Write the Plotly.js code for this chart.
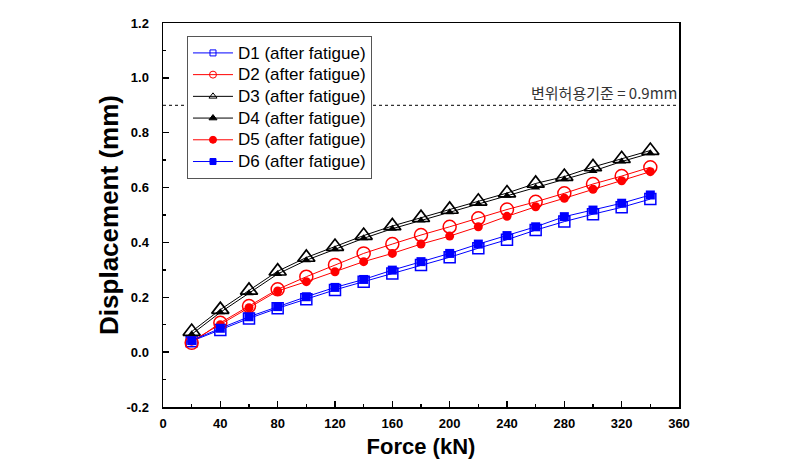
<!DOCTYPE html>
<html>
<head>
<meta charset="utf-8">
<script src="https://cdn.plot.ly/plotly-3.0.1.min.js"></script>
<style>html,body{margin:0;padding:0;background:#fff;}#chart{width:793px;height:465px;}</style>
</head>
<body>
<div id="chart"></div>
<script>
const force = [20,40,60,80,100,120,140,160,180,200,220,240,260,280,300,320,340];
const D1 = [0.040,0.081,0.123,0.160,0.193,0.227,0.257,0.287,0.318,0.346,0.379,0.410,0.445,0.476,0.503,0.528,0.558];
const D2 = [0.034,0.107,0.168,0.229,0.275,0.318,0.360,0.394,0.427,0.457,0.488,0.520,0.548,0.579,0.613,0.642,0.674];
const D3 = [0.075,0.155,0.225,0.295,0.345,0.385,0.425,0.460,0.490,0.520,0.550,0.580,0.615,0.640,0.675,0.705,0.735];
const D4 = [0.065,0.145,0.215,0.285,0.335,0.375,0.415,0.450,0.480,0.510,0.540,0.570,0.600,0.630,0.660,0.695,0.725];
const D5 = [0.040,0.100,0.162,0.223,0.257,0.293,0.330,0.360,0.394,0.423,0.457,0.495,0.530,0.561,0.594,0.625,0.658];
const D6 = [0.042,0.087,0.129,0.166,0.202,0.236,0.265,0.299,0.330,0.360,0.394,0.425,0.457,0.494,0.518,0.543,0.573];
const names = ["D1 (after fatigue)","D2 (after fatigue)","D3 (after fatigue)","D4 (after fatigue)","D5 (after fatigue)","D6 (after fatigue)"];
const yTickVals = [-0.2,0,0.2,0.4,0.6,0.8,1.0,1.2];
const yTickText = ["-0.2","0.0","0.2","0.4","0.6","0.8","1.0","1.2"];
const limitValue = 0.9;
const limitLabel = "변위허용기준 = 0.9mm";

const series = [
  {y:D1, color:'#0000ff', symbol:'square-open', size:11, lw:1.5, lsize:6},
  {y:D2, color:'#ff0000', symbol:'circle-open', size:13, lw:1.5, lsize:7},
  {y:D3, color:'#000000', symbol:'triangle-up-open', size:15, lw:1.7, lsize:7},
  {y:D4, color:'#000000', symbol:'triangle-up', size:8, lw:0, lsize:7},
  {y:D5, color:'#ff0000', symbol:'circle', size:9, lw:0, lsize:7},
  {y:D6, color:'#0000ff', symbol:'square', size:9, lw:0, lsize:6}
];

const traces = [];
series.forEach((s,i)=>{
  traces.push({
    x: force, y: s.y, type:'scatter', mode:'lines+markers', showlegend:false,
    line:{color:s.color, width:1},
    marker:{symbol:s.symbol, size:s.size, color:s.color, line:{color:s.color, width:s.lw}}
  });
});
series.forEach((s,i)=>{
  traces.push({
    x:[null], y:[null], type:'scatter', mode:'lines+markers',
    name:'<span style="font-size:17px">'+names[i]+'</span>', showlegend:true,
    line:{color:s.color, width:1},
    marker:{symbol:s.symbol, size:s.lsize, color:s.color, line:{color:s.color, width:1}}
  });
});

const axisFont = {family:'Liberation Sans, Arial, sans-serif', size:13, color:'#000', weight:'bold'};
const layout = {
  width:793, height:465,
  margin:{l:163, r:114, t:23, b:58},
  paper_bgcolor:'#fff', plot_bgcolor:'#fff',
  showlegend:true,
  legend:{x:0.0465, y:0.966, xanchor:'left', yanchor:'top', bgcolor:'#fff', bordercolor:'#555', borderwidth:1,
    itemwidth:40,
    font:{family:'Liberation Sans, Arial, sans-serif', size:14.4, color:'#000'}, tracegroupgap:0},
  xaxis:{range:[0,360], dtick:40, tick0:0, showgrid:false, zeroline:false, showline:true, linecolor:'#000', linewidth:1.5,
    mirror:true, ticks:'inside', ticklen:6, tickwidth:1.5, tickcolor:'#000', tickfont:axisFont, ticklabelstandoff:4,
    minor:{dtick:20, ticks:'inside', ticklen:3, tickwidth:1.5, tickcolor:'#000', showgrid:false},
    title:{text:'Force (kN)', font:{family:'Liberation Sans, Arial, sans-serif', size:22, color:'#000', weight:'bold'}, standoff:8}},
  yaxis:{range:[-0.2,1.2], tickmode:'array', tickvals:yTickVals, ticktext:yTickText, showgrid:false, zeroline:false, showline:true, linecolor:'#000', linewidth:1.5,
    mirror:true, ticks:'inside', ticklen:6, tickwidth:1.5, tickcolor:'#000', tickfont:axisFont, ticklabelstandoff:10,
    minor:{tickmode:'linear', tick0:0, dtick:0.1, ticks:'inside', ticklen:3, tickwidth:1.5, tickcolor:'#000', showgrid:false},
    title:{text:'Displacement (mm)', font:{family:'Liberation Sans, Arial, sans-serif', size:26, color:'#000', weight:'bold'}, standoff:0}},
  shapes:[{type:'line', xref:'x', yref:'y', x0:0, x1:360, y0:limitValue, y1:limitValue, line:{color:'#333', width:1.2, dash:'dot'}}],
  annotations:[{xref:'paper', yref:'y', x:1, y:limitValue, xanchor:'right', yanchor:'bottom', yshift:0, showarrow:false,
    text:limitLabel, font:{family:'Noto Sans CJK KR, sans-serif', size:15, color:'#333'}}]
};
Plotly.newPlot('chart', traces, layout, {displayModeBar:false, staticPlot:true});
</script>
</body>
</html>
